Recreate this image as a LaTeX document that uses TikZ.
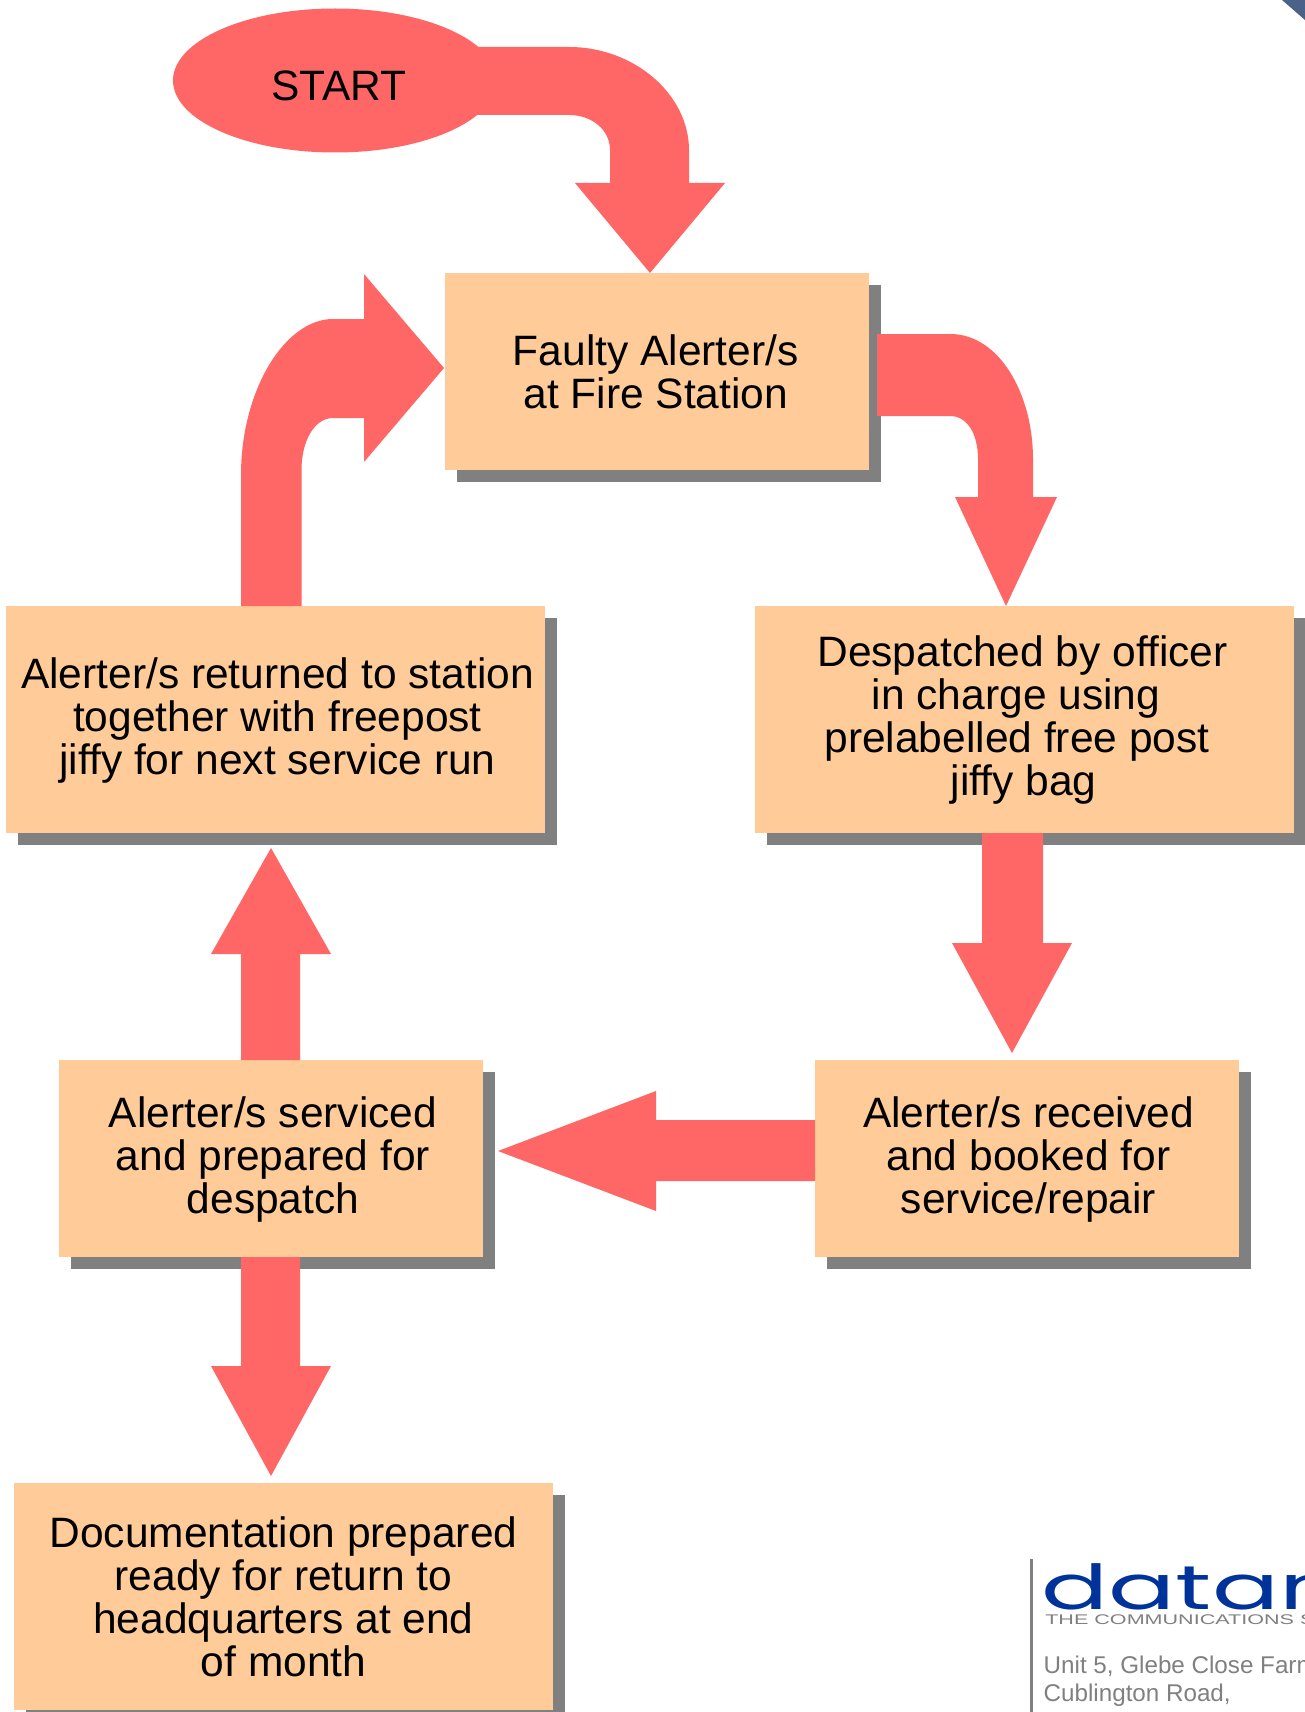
\documentclass[tikz,border=0pt]{standalone}
\usepackage{fontspec}
\setmainfont{Liberation Sans}
\newfontfamily\logofont{Poppins}
\definecolor{arrowred}{HTML}{FF6666}
\definecolor{boxfill}{HTML}{FFCC99}
\definecolor{shadowgrey}{HTML}{808080}
\definecolor{logoblue}{HTML}{003399}
\definecolor{cornerblue}{HTML}{4A6288}
\tikzset{
  stepbox/.style={fill=boxfill,inner sep=0pt,outer sep=0pt},
  wide/.style={minimum width=539pt,minimum height=227pt},
  narrow/.style={minimum width=424pt,minimum height=197pt},
  steptext/.style={inner sep=0pt,align=center,text=black,font=\fontsize{42.5}{43}\selectfont},
  blockarrow/.style={fill=arrowred,draw=none},
  addr/.style={text=shadowgrey,anchor=base west,inner sep=0pt,font=\fontsize{24.2}{27}\selectfont}
}
\begin{document}
\begin{tikzpicture}[x=1pt,y=-1pt]
\useasboundingbox (0,0) rectangle (1305,1712);
\fill[white] (0,0) rectangle (1305,1712);
\fill[cornerblue] (1282,0) -- (1305,0) -- (1305,20) -- cycle;
% shadows
\fill[shadowgrey] (456.5,284.5) rectangle (880.5,481.5);
\fill[shadowgrey] (17.5,617.5) rectangle (556.5,844.5);
\fill[shadowgrey] (766.5,617.5) rectangle (1306,844.5);
\fill[shadowgrey] (826.5,1071.5) rectangle (1250.5,1268.5);
\fill[shadowgrey] (70.5,1071.5) rectangle (494.5,1268.5);
\fill[shadowgrey] (25.5,1494.5) rectangle (564.5,1723);
% boxes
\node[stepbox,narrow] (faultybox) at (657,371.5) {};
\node[stepbox,wide] (returnedbox) at (275.5,719.5) {};
\node[stepbox,wide] (despatchedbox) at (1024.5,719.5) {};
\node[stepbox,narrow] (receivedbox) at (1027,1158.5) {};
\node[stepbox,narrow] (servicedbox) at (271,1158.5) {};
\node[stepbox,wide] (docsbox) at (283.5,1596.5) {};
% box texts
\node[steptext] (faulty) at ([shift={(-1.2,0.5)}]faultybox.center) {Faulty Alerter/s\\at Fire Station};
\node[steptext] (returned) at ([shift={(2,1)}]returnedbox.center) {Alerter/s returned to station\\together with freepost\\jiffy for next service run};
\node[steptext] (despatched) at ([shift={(-2,1)}]despatchedbox.center) {Despatched by officer\\in charge using\hspace*{13pt}\null\\prelabelled free post\hspace*{11pt}\null\\\hspace*{2pt}jiffy bag};
\node[steptext] (received) at ([shift={(1.5,0.5)}]receivedbox.center) {Alerter/s received\\and booked for\\service/repair};
\node[steptext] (serviced) at ([shift={(2,0.5)}]servicedbox.center) {Alerter/s serviced\\and prepared for\\despatch};
\node[steptext] (docs) at ([shift={(0,0.5)}]docsbox.center) {Documentation prepared\\ready for return to\\headquarters at end\\of month};
% start
\fill[blockarrow] (335,80.5) ellipse [x radius=162, y radius=72];
\node[font=\fontsize{42.5}{43}\selectfont,inner sep=0pt] (start) at (339,85.5) {START};
% arrows
\fill[blockarrow] (470,47) -- (569,47) .. controls (635,47) and (689,95) .. (689,150) -- (689,183) -- (725,183) -- (650,273) -- (575,183) -- (610,183) -- (610,150) .. controls (610,130) and (592,115) .. (569,115) -- (470,115) -- cycle;
\fill[blockarrow] (877,334) -- (950,334) .. controls (1000,334) and (1033,395) .. (1033,459) -- (1033,497) -- (1057,497) -- (1006,606) -- (955,497) -- (978,497) -- (978,459) .. controls (978,435) and (968,416) .. (950,416) -- (877,416) -- cycle;
\fill[blockarrow] (982,833) -- (1043,833) -- (1043,943) -- (1072,943) -- (1012,1053) -- (952,943) -- (982,943) -- cycle;
\fill[blockarrow] (815,1120) -- (656,1120) -- (656,1091) -- (498,1151) -- (656,1211) -- (656,1181) -- (815,1181) -- cycle;
\fill[blockarrow] (241,1060) -- (241,954) -- (211,954) -- (271,848) -- (331,954) -- (300,954) -- (300,1060) -- cycle;
\fill[blockarrow] (241,1257) -- (241,1366) -- (211,1366) -- (271,1476) -- (331,1366) -- (300,1366) -- (300,1257) -- cycle;
\fill[blockarrow] (241,606) -- (241,475) .. controls (241,390) and (285,319) .. (333,319) -- (364,319) -- (364,274) -- (444,368) -- (364,462) -- (364,418) -- (333,418) .. controls (315,418) and (301.5,440) .. (301.5,470) -- (301.5,606) -- cycle;
% logo block
\fill[shadowgrey] (1030,1559) rectangle (1033,1712);
\node[anchor=base west,inner sep=0pt,text=logoblue,xscale=1.6,font=\logofont\fontsize{62}{62}\selectfont] (logo) at (1041.5,1609) {datan};
\node[anchor=base west,inner sep=0pt,text=shadowgrey,xscale=1.54,font=\fontsize{14}{14}\selectfont] (tag) at (1045,1624) {THE COMMUNICATIONS S};
\node[addr] (addra) at (1043.5,1673) {Unit 5, Glebe Close Farm};
\node[addr] (addrb) at (1043.5,1701) {Cublington Road,};
\end{tikzpicture}
\end{document}
